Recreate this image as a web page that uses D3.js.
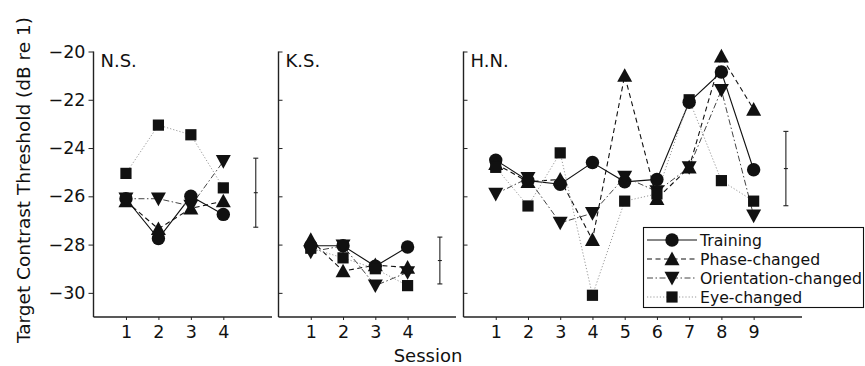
<!DOCTYPE html>
<html><head><meta charset="utf-8">
<script src="https://cdn.jsdelivr.net/npm/d3@7"></script>
<style>
html,body{margin:0;padding:0;background:#fff;}
text{font-family:"DejaVu Sans",sans-serif;fill:#111;}
</style></head>
<body>
<svg id="chart" width="865" height="366"></svg>
<script>
// ---------- data ----------
const seriesNames = ["Training","Phase-changed","Orientation-changed","Eye-changed"];
const panelNames = ["N.S.","K.S.","H.N."];
const yTicks = [-20,-22,-24,-26,-28,-30];

const nsSessions = [1,2,3,4];
const nsTraining = [-26.1,-27.75,-26.0,-26.75];
const nsPhase = [-26.2,-27.35,-26.5,-26.2];
const nsOrientation = [-26.1,-26.1,-26.4,-24.55];
const nsEye = [-25.05,-23.05,-23.45,-25.65];
const nsErrMean = -25.85, nsErrHalf = 1.43;

const ksSessions = [1,2,3,4];
const ksTraining = [-28.05,-28.05,-28.9,-28.1];
const ksPhase = [-27.8,-29.1,-28.85,-28.95];
const ksOrientation = [-28.3,-28.05,-29.7,-29.15];
const ksEye = [-28.15,-28.55,-29.0,-29.7];
const ksErrMean = -28.66, ksErrHalf = 0.97;

const hnSessions = [1,2,3,4,5,6,7,8,9];
const hnTraining = [-24.5,-25.35,-25.5,-24.6,-25.4,-25.3,-22.1,-20.85,-24.9];
const hnPhase = [-24.65,-25.4,-25.3,-27.8,-21.0,-26.1,-24.8,-20.2,-22.4];
const hnOrientation = [-25.9,-25.25,-27.1,-26.7,-25.2,-25.8,-24.8,-21.6,-26.8];
const hnEye = [-24.8,-26.4,-24.2,-30.1,-26.2,-25.9,-22.0,-25.35,-26.2];
const hnErrMean = -24.85, hnErrHalf = 1.54;

// ---------- layout ----------
const svg = d3.select("#chart");
const yDomain = [-31,-20];
const y = d3.scaleLinear().domain(yDomain).range([317,51.5]);

const panels = [
  {name:panelNames[0], sessions:nsSessions, series:[nsTraining,nsPhase,nsOrientation,nsEye], err:[nsErrMean,nsErrHalf], xdom:[0,5.5], xr:[93.5,272], tickDir:"out"},
  {name:panelNames[1], sessions:ksSessions, series:[ksTraining,ksPhase,ksOrientation,ksEye], err:[ksErrMean,ksErrHalf], xdom:[0,5.5], xr:[278.5,456], tickDir:"in"},
  {name:panelNames[2], sessions:hnSessions, series:[hnTraining,hnPhase,hnOrientation,hnEye], err:[hnErrMean,hnErrHalf], xdom:[0,10.5], xr:[463.5,802], tickDir:"in"}
];

const styles = [
  {dash:null, color:"#111", width:1.1, marker:"circle"},
  {dash:"5,3.5", color:"#111", width:1.1, marker:"up"},
  {dash:"6,2.5,1.5,2.5", color:"#444", width:1, marker:"down"},
  {dash:"1.2,2", color:"#999", width:1, marker:"square"}
];

function drawMarker(g, type, cx, cy){
  const fill = "#111";
  if(type==="circle"){
    g.append("circle").attr("cx",cx).attr("cy",cy).attr("r",6.7).attr("fill",fill);
  } else if(type==="square"){
    g.append("rect").attr("x",cx-5.6).attr("y",cy-5.6).attr("width",11.2).attr("height",11.2).attr("fill",fill);
  } else if(type==="up"){
    g.append("path").attr("d",`M${cx},${cy-7.5}L${cx+7.5},${cy+6.2}L${cx-7.5},${cy+6.2}Z`).attr("fill",fill);
  } else if(type==="down"){
    g.append("path").attr("d",`M${cx},${cy+7.5}L${cx+7.5},${cy-6.2}L${cx-7.5},${cy-6.2}Z`).attr("fill",fill);
  }
}

panels.forEach(p=>{
  const x = d3.scaleLinear().domain(p.xdom).range(p.xr);
  const g = svg.append("g");

  // y axis
  const yAxis = (p.tickDir==="out" ? d3.axisLeft(y).tickSize(5).tickPadding(3) : d3.axisRight(y).tickSize(4).tickFormat(""))
      .tickValues(yTicks);
  const ya = g.append("g").attr("transform",`translate(${p.xr[0]},0)`).call(yAxis);
  ya.select(".domain").attr("d",`M0,${y(yDomain[1])}V${y(yDomain[0])}`).attr("stroke","#222").attr("stroke-width",1.4);
  ya.selectAll(".tick line").attr("stroke","#222").attr("stroke-width",1);
  ya.selectAll(".tick text").style("font-size","17.5px").attr("fill","#111");

  // x axis
  const xAxis = d3.axisBottom(x).tickValues(p.sessions).tickSize(3).tickPadding(6).tickFormat(d3.format("d"));
  const xa = g.append("g").attr("transform",`translate(0,${y(yDomain[0])})`).call(xAxis);
  xa.select(".domain").attr("d",`M${p.xr[0]},0H${p.xr[1]}`).attr("stroke","#222").attr("stroke-width",1.4);
  xa.selectAll(".tick line").attr("stroke","#222");
  xa.selectAll(".tick text").style("font-size","17.5px").attr("fill","#111");

  // panel label
  g.append("text").attr("x",p.xr[0]+7).attr("y",y(-20)+15).style("font-size","18px").text(p.name);

  // series lines then markers
  p.series.forEach((vals,i)=>{
    const st = styles[i];
    const line = d3.line().x((d,k)=>x(p.sessions[k])).y(d=>y(d));
    g.append("path").datum(vals).attr("d",line).attr("fill","none")
      .attr("stroke",st.color).attr("stroke-width",st.width)
      .attr("stroke-dasharray",st.dash);
  });
  p.series.forEach((vals,i)=>{
    const st = styles[i];
    const mg = g.append("g");
    vals.forEach((v,k)=>drawMarker(mg, st.marker, x(p.sessions[k]), y(v)));
  });

  // error bar at session n+1
  const ex = x(p.sessions.length+1);
  const [m,h] = p.err;
  const eg = g.append("g").attr("stroke","#222").attr("stroke-width",1.1);
  eg.append("line").attr("x1",ex).attr("x2",ex).attr("y1",y(m+h)).attr("y2",y(m-h));
  eg.append("line").attr("x1",ex-2.5).attr("x2",ex+2.5).attr("y1",y(m+h)).attr("y2",y(m+h));
  eg.append("line").attr("x1",ex-2.5).attr("x2",ex+2.5).attr("y1",y(m-h)).attr("y2",y(m-h));
  eg.append("line").attr("x1",ex-2).attr("x2",ex+2).attr("y1",y(m)).attr("y2",y(m));
});

// axis titles
svg.append("text").attr("transform",`translate(30,180) rotate(-90)`)
  .attr("text-anchor","middle").style("font-size","18.5px")
  .text("Target Contrast Threshold (dB re 1)");
svg.append("text").attr("x",428).attr("y",362).attr("text-anchor","middle").style("font-size","18px").text("Session");

// legend
const lg = svg.append("g");
lg.append("rect").attr("x",643.5).attr("y",227.5).attr("width",220).attr("height",80)
  .attr("fill","#fff").attr("stroke","#111").attr("stroke-width",1.1);
const legendRowY = d3.scalePoint().domain(seriesNames).range([240,297]);
seriesNames.forEach((n,i)=>{
  const st = styles[i];
  const cy = legendRowY(n);
  lg.append("line").attr("x1",647).attr("x2",697).attr("y1",cy).attr("y2",cy)
    .attr("stroke",st.color).attr("stroke-width",st.width).attr("stroke-dasharray",st.dash);
  drawMarker(lg, st.marker, 672, cy);
  lg.append("text").attr("x",700).attr("y",cy).attr("dy","0.36em").style("font-size","15.7px").text(n);
});
</script>
</body></html>
